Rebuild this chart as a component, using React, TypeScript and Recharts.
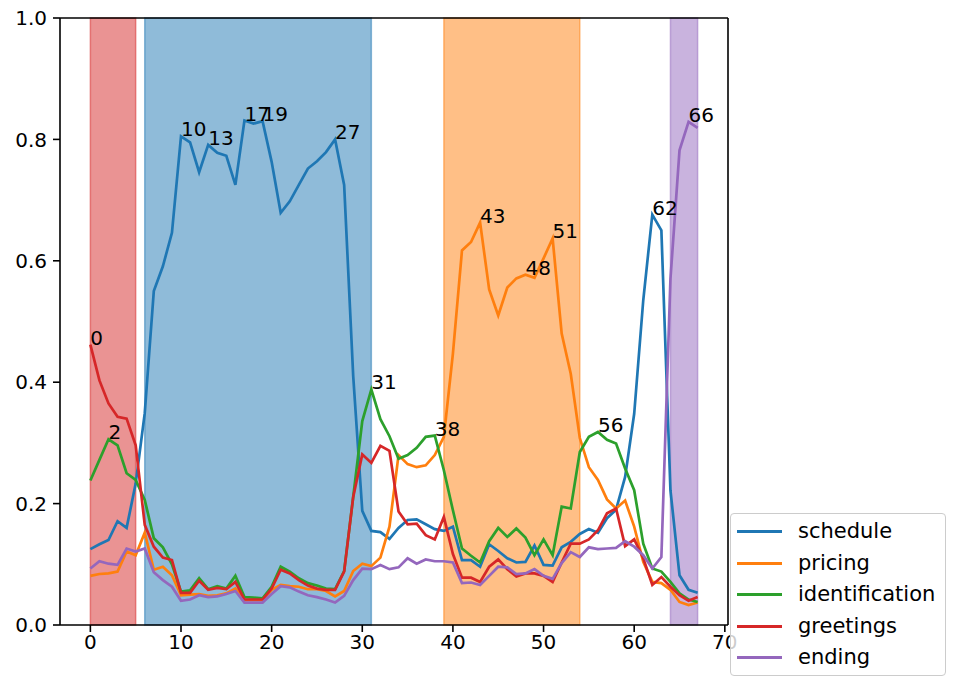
import React from "react";
import { LineChart, Line, XAxis, YAxis, ReferenceArea, ReferenceLine } from "recharts";

const FONT = "DejaVu Sans, Verdana, sans-serif";

// per-step probabilities (steps 0..67)
const schedule = [
  0.125, 0.133, 0.14, 0.171, 0.16, 0.233, 0.349, 0.55, 0.591, 0.646,
  0.805, 0.795, 0.746, 0.791, 0.778, 0.773, 0.725, 0.831, 0.826, 0.83,
  0.763, 0.679, 0.698, 0.725, 0.752, 0.764, 0.779, 0.8, 0.725, 0.41,
  0.188, 0.155, 0.153, 0.142, 0.16, 0.173, 0.174, 0.166, 0.158, 0.155,
  0.162, 0.107, 0.107, 0.096, 0.133, 0.122, 0.11, 0.103, 0.104, 0.131,
  0.099, 0.098, 0.128, 0.137, 0.15, 0.158, 0.152, 0.176, 0.19, 0.244,
  0.348, 0.535, 0.676, 0.65, 0.222, 0.082, 0.058, 0.053,
];
const pricing = [
  0.081, 0.084, 0.085, 0.088, 0.121, 0.115, 0.152, 0.091, 0.096, 0.082,
  0.049, 0.05, 0.051, 0.048, 0.049, 0.052, 0.06, 0.041, 0.041, 0.041,
  0.058, 0.066, 0.064, 0.063, 0.059, 0.059, 0.056, 0.047, 0.056, 0.089,
  0.101, 0.097, 0.111, 0.162, 0.28, 0.265, 0.26, 0.263, 0.28, 0.31,
  0.447, 0.617, 0.631, 0.663, 0.553, 0.51, 0.556, 0.571, 0.577, 0.572,
  0.604, 0.637, 0.48, 0.414, 0.308, 0.26, 0.239, 0.207, 0.192, 0.205,
  0.162, 0.104, 0.071, 0.069, 0.058, 0.038, 0.033, 0.037,
];
const identification = [
  0.238, 0.272, 0.306, 0.296, 0.25, 0.239, 0.206, 0.143, 0.128, 0.1,
  0.055, 0.057, 0.077, 0.059, 0.064, 0.06, 0.081, 0.046, 0.045, 0.044,
  0.063, 0.096, 0.088, 0.077, 0.069, 0.065, 0.06, 0.059, 0.089, 0.211,
  0.336, 0.388, 0.339, 0.311, 0.274, 0.28, 0.292, 0.31, 0.312, 0.255,
  0.189, 0.126, 0.114, 0.103, 0.138, 0.16, 0.145, 0.159, 0.144, 0.115,
  0.141, 0.115, 0.195, 0.192, 0.285, 0.31, 0.318, 0.305, 0.299, 0.258,
  0.222, 0.134, 0.093, 0.088, 0.071, 0.052, 0.042, 0.038,
];
const greetings = [
  0.462, 0.403, 0.365, 0.343, 0.34, 0.296, 0.165, 0.129, 0.111, 0.107,
  0.053, 0.053, 0.073, 0.058, 0.061, 0.059, 0.071, 0.042, 0.042, 0.042,
  0.06, 0.091, 0.085, 0.074, 0.065, 0.06, 0.058, 0.058, 0.088, 0.211,
  0.281, 0.267, 0.295, 0.287, 0.187, 0.166, 0.167, 0.148, 0.141, 0.178,
  0.117, 0.078, 0.078, 0.071, 0.096, 0.108, 0.092, 0.08, 0.085, 0.085,
  0.081, 0.071, 0.103, 0.134, 0.134, 0.141, 0.156, 0.184, 0.192, 0.13,
  0.141, 0.11, 0.066, 0.079, 0.063, 0.049, 0.04, 0.046,
];
const ending = [
  0.093, 0.105, 0.101, 0.099, 0.126, 0.121, 0.126, 0.087, 0.074, 0.063,
  0.04, 0.042, 0.049, 0.046, 0.047, 0.051, 0.056, 0.037, 0.037, 0.037,
  0.051, 0.064, 0.062, 0.055, 0.049, 0.046, 0.042, 0.037, 0.048, 0.074,
  0.093, 0.092, 0.099, 0.092, 0.095, 0.11, 0.101, 0.108, 0.105, 0.105,
  0.103, 0.069, 0.07, 0.066, 0.081, 0.096, 0.095, 0.084, 0.085, 0.092,
  0.081, 0.076, 0.102, 0.12, 0.112, 0.128, 0.125, 0.126, 0.127, 0.138,
  0.129, 0.115, 0.093, 0.112, 0.57, 0.782, 0.829, 0.819,
];

// steps that get their index written next to the point
const scheduleMarks = [10, 13, 17, 19, 27, 62];
const pricingMarks = [43, 48, 51];
const identificationMarks = [2, 31, 38, 56];
const greetingsMarks = [0];
const endingMarks = [66];

// shaded segments: [from, to, colour]
const spans: [number, number, string][] = [
  [0, 5, "#d62728"],
  [6, 31, "#1f77b4"],
  [39, 54, "#ff7f0e"],
  [64, 67, "#9467bd"],
];

const xTicks = [0, 10, 20, 30, 40, 50, 60, 70];
const yTicks = [0, 0.2, 0.4, 0.6, 0.8, 1.0];

const SERIES = [
  { key: "schedule", color: "#1f77b4", values: schedule, marks: scheduleMarks },
  { key: "pricing", color: "#ff7f0e", values: pricing, marks: pricingMarks },
  { key: "identification", color: "#2ca02c", values: identification, marks: identificationMarks },
  { key: "greetings", color: "#d62728", values: greetings, marks: greetingsMarks },
  { key: "ending", color: "#9467bd", values: ending, marks: endingMarks },
];

const data = schedule.map((_, i) => {
  const row: Record<string, number> = { step: i };
  SERIES.forEach((s) => (row[s.key] = s.values[i]));
  return row;
});

const X_DOMAIN: [number, number] = [-3.35, 70.35];
const TICK = { fill: "#000", fontSize: 20, fontFamily: FONT };

const markLabel = (marks: number[]) => (props: any) => {
  const { x, y, index } = props;
  if (!marks.includes(index)) return <g key={`l-${index}`} />;
  return (
    <text key={`l-${index}`} x={x} y={y} fontSize={20} fontFamily={FONT} fill="#000">
      {index}
    </text>
  );
};

function LegendBox() {
  return (
    <div
      style={{
        position: "absolute",
        left: 730,
        top: 513,
        width: 216,
        height: 163,
        border: "1.5px solid #cccccc",
        borderRadius: 4,
        background: "rgba(255,255,255,0.8)",
        fontFamily: FONT,
        fontSize: 21,
        boxSizing: "border-box",
        paddingTop: 2,
      }}
    >
      {SERIES.map((s) => (
        <div key={s.key} style={{ display: "flex", alignItems: "center", height: 31.5 }}>
          <div style={{ width: 45, height: 3, background: s.color, marginLeft: 6, marginRight: 16 }} />
          <span style={{ color: "#000", lineHeight: 1 }}>{s.key}</span>
        </div>
      ))}
    </div>
  );
}

export default function App() {
  return (
    <div style={{ position: "absolute", left: 0, top: 0, width: 960, height: 690, background: "#fff" }}>
      <LineChart
        width={960}
        height={690}
        data={data}
        margin={{ top: 18, right: 232, bottom: 0, left: 0 }}
      >
        {spans.map(([from, to, color]) => (
          <ReferenceArea
            key={`span-${from}`}
            x1={from}
            x2={to}
            y1={0}
            y2={1}
            fill={color}
            fillOpacity={0.5}
            stroke={color}
            strokeOpacity={0.5}
            strokeWidth={1.5}
          />
        ))}
        <XAxis
          dataKey="step"
          type="number"
          domain={X_DOMAIN}
          ticks={xTicks}
          allowDataOverflow
          height={65}
          tick={TICK}
          tickSize={7}
          tickMargin={3}
          axisLine={{ stroke: "#000", strokeWidth: 1.6 }}
          tickLine={{ stroke: "#000", strokeWidth: 1.6 }}
        />
        <YAxis
          type="number"
          domain={[0, 1]}
          ticks={yTicks}
          width={60}
          tick={TICK}
          tickSize={7}
          tickMargin={6}
          tickFormatter={(v: number) => v.toFixed(1)}
          axisLine={{ stroke: "#000", strokeWidth: 1.6 }}
          tickLine={{ stroke: "#000", strokeWidth: 1.6 }}
        />
        <ReferenceLine y={1} stroke="#000" strokeWidth={1.6} />
        <ReferenceLine x={X_DOMAIN[1]} stroke="#000" strokeWidth={1.6} />
        {SERIES.map((s) => (
          <Line
            key={s.key}
            dataKey={s.key}
            name={s.key}
            stroke={s.color}
            strokeWidth={2.7}
            dot={false}
            activeDot={false}
            type="linear"
            isAnimationActive={false}
            label={markLabel(s.marks)}
          />
        ))}
      </LineChart>
      <LegendBox />
    </div>
  );
}
